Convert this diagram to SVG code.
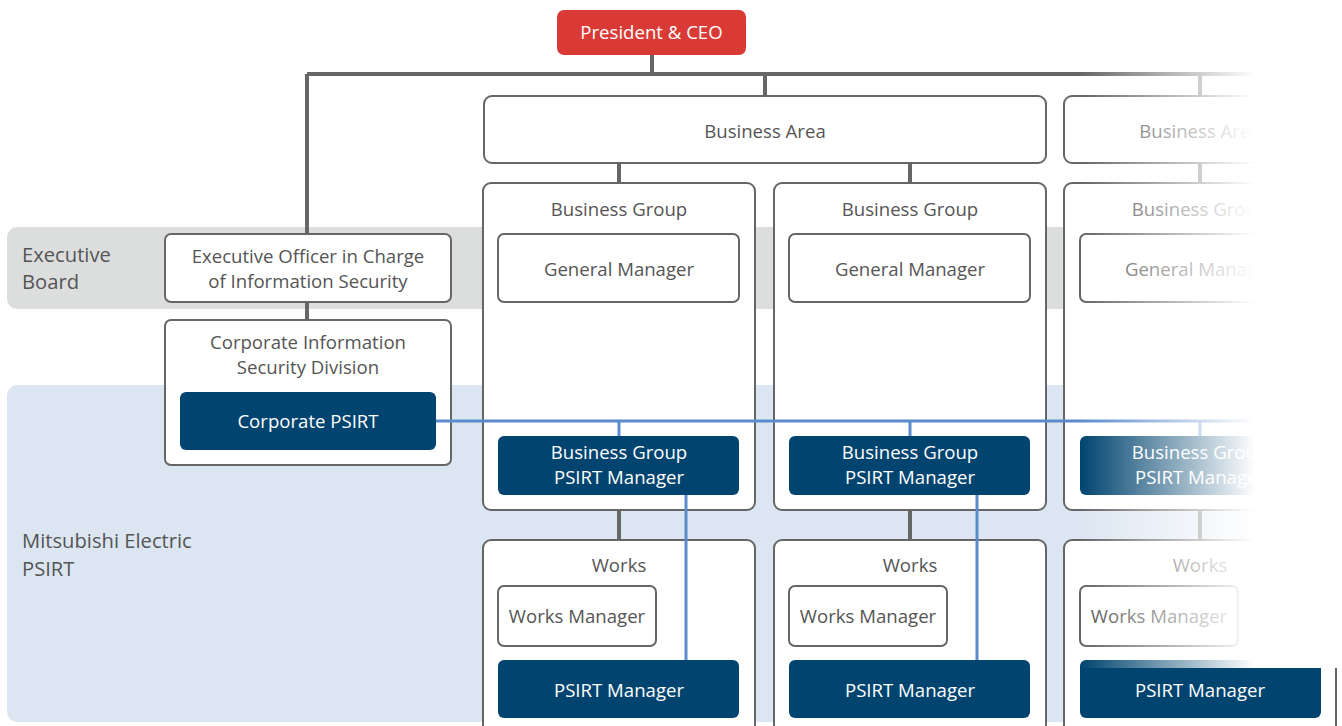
<svg xmlns="http://www.w3.org/2000/svg" width="1342" height="726" viewBox="0 0 1342 726">
<style>
.box{fill:#fff;stroke:#666;stroke-width:2}
.dark{fill:#00446f}
.t{font-family:"Open Sans","Noto Sans",sans-serif;font-size:18.6px;fill:#555;text-anchor:middle}
.tl{font-family:"Open Sans","Noto Sans",sans-serif;font-size:20.2px;fill:#555}
.tw{font-family:"Open Sans","Noto Sans",sans-serif;font-size:18.6px;fill:#fff;text-anchor:middle}
.c{stroke:#666;stroke-width:4;fill:none}
.b{stroke:#5a8ccc;stroke-width:3;fill:none}
</style>
<defs>
<linearGradient id="fade" gradientUnits="userSpaceOnUse" x1="1080" y1="0" x2="1255" y2="0">
<stop offset="0" stop-color="#fff" stop-opacity="0"/>
<stop offset="1" stop-color="#fff" stop-opacity="1"/>
</linearGradient>
</defs>
<rect width="1342" height="726" fill="#fff"/>
<g id="bands">
<rect x="7" y="227" width="1320" height="82" rx="10" fill="#dcdddd"/>
<rect x="7" y="385" width="1320" height="337" rx="10" fill="#dce6f2"/>
<text class="tl" x="22" y="262">Executive</text>
<text class="tl" x="22" y="289">Board</text>
<text class="tl" x="22" y="548">Mitsubishi Electric</text>
<text class="tl" x="22" y="576">PSIRT</text>
</g>
<g id="ceo">
<rect x="557" y="10" width="189" height="45" rx="7" fill="#da3a35"/>
<text class="tw" x="651.500" y="39">President &amp; CEO</text>
</g>
<g id="exec-officer">
<rect class="box" x="165" y="234" width="286" height="68" rx="6"/>
<text class="t" x="308" y="263">Executive Officer in Charge</text>
<text class="t" x="308" y="288">of Information Security</text>
</g>
<g id="corp-div">
<rect class="box" x="165" y="320" width="286" height="145" rx="6"/>
<text class="t" x="308" y="349">Corporate Information</text>
<text class="t" x="308" y="374">Security Division</text>
</g>
<g id="corp-psirt">
<rect class="dark" x="180" y="392" width="256" height="58" rx="6"/>
<text class="tw" x="308" y="428">Corporate PSIRT</text>
</g>
<g id="business-area-1">
<rect class="box" x="484" y="96" width="562" height="67" rx="8"/>
<text class="t" x="765" y="138">Business Area</text>
</g>
<g id="business-area-2">
<rect class="box" x="1064" y="96" width="562" height="67" rx="8"/>
<text class="t" x="1200" y="138">Business Area</text>
</g>
<g id="bg-1">
<rect class="box" x="483" y="183" width="272" height="327" rx="8"/>
<text class="t" x="619" y="216">Business Group</text>
</g>
<g id="gm-1">
<rect class="box" x="498" y="234" width="241" height="68" rx="6"/>
<text class="t" x="619" y="276">General Manager</text>
</g>
<g id="bgpm-1">
<rect class="dark" x="498" y="436" width="241" height="59" rx="6"/>
<text class="tw" x="619" y="459">Business Group</text>
<text class="tw" x="619" y="484">PSIRT Manager</text>
</g>
<g id="bg-2">
<rect class="box" x="774" y="183" width="272" height="327" rx="8"/>
<text class="t" x="910" y="216">Business Group</text>
</g>
<g id="gm-2">
<rect class="box" x="789" y="234" width="241" height="68" rx="6"/>
<text class="t" x="910" y="276">General Manager</text>
</g>
<g id="bgpm-2">
<rect class="dark" x="789" y="436" width="241" height="59" rx="6"/>
<text class="tw" x="910" y="459">Business Group</text>
<text class="tw" x="910" y="484">PSIRT Manager</text>
</g>
<g id="bg-3">
<rect class="box" x="1064" y="183" width="272" height="327" rx="8"/>
<text class="t" x="1200" y="216">Business Group</text>
</g>
<g id="gm-3">
<rect class="box" x="1080" y="234" width="241" height="68" rx="6"/>
<text class="t" x="1200" y="276">General Manager</text>
</g>
<g id="bgpm-3">
<rect class="dark" x="1080" y="436" width="241" height="59" rx="6"/>
<text class="tw" x="1200" y="459">Business Group</text>
<text class="tw" x="1200" y="484">PSIRT Manager</text>
</g>
<g id="works-1">
<rect class="box" x="483" y="540" width="272" height="200" rx="8"/>
<text class="t" x="619" y="572">Works</text>
</g>
<g id="wm-1">
<rect class="box" x="498" y="586" width="158" height="60" rx="6"/>
<text class="t" x="577" y="623">Works Manager</text>
</g>
<g id="pm-1">
<rect class="dark" x="498" y="660" width="241" height="58" rx="6"/>
<text class="tw" x="619" y="697">PSIRT Manager</text>
</g>
<g id="works-2">
<rect class="box" x="774" y="540" width="272" height="200" rx="8"/>
<text class="t" x="910" y="572">Works</text>
</g>
<g id="wm-2">
<rect class="box" x="789" y="586" width="158" height="60" rx="6"/>
<text class="t" x="868" y="623">Works Manager</text>
</g>
<g id="pm-2">
<rect class="dark" x="789" y="660" width="241" height="58" rx="6"/>
<text class="tw" x="910" y="697">PSIRT Manager</text>
</g>
<g id="works-3">
<rect class="box" x="1064" y="540" width="272" height="200" rx="8"/>
<text class="t" x="1200" y="572">Works</text>
</g>
<g id="wm-3">
<rect class="box" x="1080" y="586" width="158" height="60" rx="6"/>
<text class="t" x="1159" y="623">Works Manager</text>
</g>
<g id="pm-3">
<rect class="dark" x="1080" y="660" width="241" height="58" rx="6"/>
<text class="tw" x="1200" y="697">PSIRT Manager</text>
</g>
<g id="connectors">
<path class="c" d="M652 55V74M307 74H1300M307 74V233M765 74V95M1200 74V95M307 303V319M619 164V182M910 164V182M1200 164V182M619 511V539M910 511V539M1200 511V539"/>
<path class="b" d="M436 421H1300M619 421V436M910 421V436M1200 421V436M686 495V660M977 495V660"/>
</g>
<rect id="fade-overlay" x="1080" y="0" width="262" height="668" fill="url(#fade)"/>
</svg>
